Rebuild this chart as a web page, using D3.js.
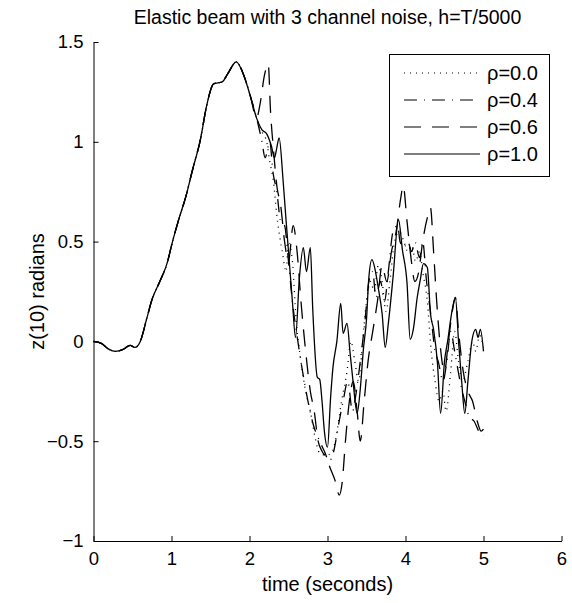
<!DOCTYPE html>
<html><head><meta charset="utf-8">
<script src="https://cdnjs.cloudflare.com/ajax/libs/d3/7.8.5/d3.min.js"></script>
<style>body{margin:0;background:#fff;} text{font-family:"Liberation Sans",Arial,Helvetica,sans-serif;}</style>
</head><body>
<svg id="chart" width="572" height="603"></svg>
<script>
// ---- data ----
const commonT = [0,0.1,0.2,0.28,0.38,0.47,0.53,0.6,0.68,0.75,0.85,0.95,1.0,1.1,1.18,1.27,1.37,1.45,1.54,1.65,1.72,1.83,1.92,2.01,2.09];
const commonZ = [0,-0.01,-0.04,-0.05,-0.04,-0.02,-0.03,0,0.11,0.21,0.3,0.4,0.48,0.62,0.72,0.86,1.01,1.18,1.29,1.30,1.34,1.40,1.34,1.23,1.12];

const rho00T = [2.16,2.22,2.26,2.3,2.36,2.42,2.47,2.5,2.55,2.6,2.66,2.72,2.78,2.84,2.9,2.98,3.05,3.1,3.18,3.25,3.3,3.35,3.4,3.45,3.5,3.55,3.6,3.65,3.7,3.75,3.8,3.86,3.92,3.98,4.03,4.08,4.13,4.18,4.22,4.28,4.33,4.38,4.43,4.48,4.52,4.58,4.63,4.68,4.73,4.8,4.86,4.9,4.95,5.0];
const rho00Z = [1.05,1.0,0.9,0.82,0.6,0.45,0.35,0.5,0.4,0.1,-0.1,-0.25,-0.35,-0.48,-0.56,-0.57,-0.56,-0.5,-0.3,-0.15,0.0,-0.1,-0.2,0.0,0.2,0.3,0.25,0.38,0.3,0.15,0.3,0.5,0.55,0.5,0.45,0.48,0.4,0.45,0.35,0.2,-0.05,-0.2,-0.3,-0.25,-0.35,-0.15,0.05,-0.1,-0.2,-0.1,0.0,-0.05,0.03,-0.03];

const rho04T = [2.16,2.2,2.26,2.3,2.35,2.4,2.45,2.5,2.55,2.62,2.68,2.75,2.82,2.9,2.96,3.02,3.08,3.14,3.2,3.26,3.32,3.37,3.42,3.48,3.53,3.58,3.62,3.68,3.73,3.78,3.84,3.9,3.93,3.98,4.03,4.08,4.12,4.18,4.22,4.27,4.32,4.38,4.42,4.48,4.53,4.58,4.63,4.7,4.76,4.82,4.88,4.94,5.0];
const rho04Z = [1.0,0.92,1.0,0.85,0.75,0.6,0.58,0.4,0.2,0.0,-0.15,-0.3,-0.42,-0.5,-0.55,-0.6,-0.55,-0.42,-0.3,-0.2,-0.35,-0.25,-0.1,0.1,0.3,0.35,0.22,0.3,0.2,0.35,0.55,0.58,0.5,0.47,0.5,0.45,0.5,0.42,0.5,0.3,0.15,-0.05,-0.1,-0.2,-0.1,0.05,-0.05,-0.2,-0.3,-0.38,-0.4,-0.45,-0.47];

const rho06T = [2.14,2.19,2.24,2.27,2.31,2.35,2.4,2.45,2.5,2.56,2.61,2.66,2.72,2.78,2.83,2.88,2.93,2.98,3.04,3.1,3.15,3.19,3.23,3.28,3.33,3.38,3.42,3.47,3.52,3.58,3.64,3.7,3.76,3.82,3.88,3.94,3.97,4.02,4.07,4.12,4.17,4.22,4.28,4.32,4.36,4.4,4.44,4.5,4.55,4.6,4.64,4.68,4.74,4.8,4.86,4.92,4.97,5.0];
const rho06Z = [1.2,1.33,1.39,1.15,0.95,0.78,0.68,0.5,0.4,0.58,0.45,0.2,-0.05,-0.25,-0.35,-0.5,-0.55,-0.58,-0.64,-0.7,-0.77,-0.7,-0.5,-0.3,-0.2,-0.35,-0.5,-0.3,-0.1,0.05,0.2,0.38,0.3,0.45,0.55,0.72,0.78,0.6,0.42,0.3,0.35,0.5,0.62,0.67,0.45,0.2,0.0,-0.15,0.0,0.15,0.22,0.05,-0.15,-0.25,-0.3,-0.4,-0.45,-0.44];

const rho10T = [2.16,2.22,2.28,2.32,2.35,2.38,2.43,2.47,2.51,2.55,2.59,2.64,2.69,2.73,2.78,2.81,2.87,2.9,2.93,2.96,3.0,3.04,3.07,3.12,3.17,3.2,3.25,3.29,3.33,3.38,3.42,3.46,3.5,3.53,3.57,3.61,3.65,3.7,3.74,3.78,3.84,3.91,3.96,4.02,4.06,4.1,4.15,4.19,4.23,4.28,4.32,4.36,4.41,4.45,4.5,4.54,4.6,4.64,4.68,4.72,4.76,4.8,4.85,4.9,4.93,4.96,5.0];
const rho10Z = [1.06,1.04,0.98,0.92,0.97,1.02,0.81,0.6,0.4,0.2,0.02,0.32,0.47,0.35,0.47,0.17,-0.18,-0.19,-0.3,-0.45,-0.53,-0.28,-0.13,0.0,0.19,0.04,0.09,-0.06,-0.21,-0.36,-0.24,-0.04,0.11,0.32,0.41,0.36,0.27,0.14,-0.03,0.09,0.32,0.61,0.46,0.29,0.01,0.06,0.22,0.31,0.39,0.37,0.14,0.06,-0.11,-0.36,-0.1,0.0,0.16,0.22,0.0,-0.2,-0.36,-0.2,0.0,0.06,0.02,0.06,-0.05];

const seriesNames = ["ρ=0.0","ρ=0.4","ρ=0.6","ρ=1.0"];
const xTicks = [0,1,2,3,4,5,6];
const yTicks = [-1,-0.5,0,0.5,1,1.5];
const yTickLabels = ["−1","−0.5","0","0.5","1","1.5"];
const titleText = "Elastic beam with 3 channel noise, h=T/5000";
const xLabelText = "time (seconds)";
const yLabelText = "z(10) radians";

// ---- layout ----
const svg = d3.select("#chart");
const L = 93.5, R = 561.5, T = 42, B = 541;
const x = d3.scaleLinear().domain([0,6]).range([L,R]);
const y = d3.scaleLinear().domain([-1,1.5]).range([B,T]);

function build(tt, zz){
  const pts = commonT.map((t,i)=>[t,commonZ[i]]);
  tt.forEach((t,i)=>pts.push([t,zz[i]]));
  return pts;
}
const series = [
  {name:seriesNames[0], pts:build(rho00T,rho00Z), dash:"1,5"},
  {name:seriesNames[1], pts:build(rho04T,rho04Z), dash:"13,7,1,7"},
  {name:seriesNames[2], pts:build(rho06T,rho06Z), dash:"17,11"},
  {name:seriesNames[3], pts:build(rho10T,rho10Z), dash:null}
];

const line = d3.line().x(d=>x(d[0])).y(d=>y(d[1])).curve(d3.curveMonotoneX);
series.forEach(s=>{
  svg.append("path").attr("d",line(s.pts)).attr("fill","none")
    .attr("stroke","#000").attr("stroke-width",1.3)
    .attr("stroke-dasharray",s.dash);
});

// axes
const xAxis = d3.axisBottom(x).tickValues(xTicks).tickFormat(d3.format("d")).tickSizeInner(-5).tickSizeOuter(0).tickPadding(11);
const gx = svg.append("g").attr("transform",`translate(0,${B})`).call(xAxis);
const yAxis = d3.axisLeft(y).tickValues(yTicks).tickFormat((d,i)=>yTickLabels[i]).tickSizeInner(-5).tickSizeOuter(0).tickPadding(10);
const gy = svg.append("g").attr("transform",`translate(${L},0)`).call(yAxis);
[gx,gy].forEach(g=>{
  g.selectAll("path").attr("stroke","#000").attr("stroke-width",1);
  g.selectAll("line").attr("stroke","#000");
  g.selectAll("text").attr("font-size",18.5).attr("fill","#000")
    .style("font-family","'Liberation Sans',Arial,sans-serif");
});

// title & labels
svg.append("text").attr("x",(L+R)/2).attr("y",24).attr("text-anchor","middle")
  .attr("font-size",19.5).text(titleText);
svg.append("text").attr("x",(L+R)/2).attr("y",591).attr("text-anchor","middle")
  .attr("font-size",20).text(xLabelText);
svg.append("text").attr("transform",`translate(44,${(T+B)/2}) rotate(-90)`).attr("text-anchor","middle")
  .attr("font-size",20).text(yLabelText);

// legend
const lg = svg.append("g");
lg.append("rect").attr("x",389.5).attr("y",54.5).attr("width",160).attr("height",122)
  .attr("fill","#fff").attr("stroke","#000").attr("stroke-width",1);
series.forEach((s,i)=>{
  const yy = 73 + i*27;
  lg.append("line").attr("x1",404).attr("x2",480).attr("y1",yy).attr("y2",yy)
    .attr("stroke","#000").attr("stroke-width",1.2).attr("stroke-dasharray",s.dash);
  lg.append("text").attr("x",487).attr("y",yy+7).attr("font-size",20).text(s.name);
});
</script>
</body></html>
